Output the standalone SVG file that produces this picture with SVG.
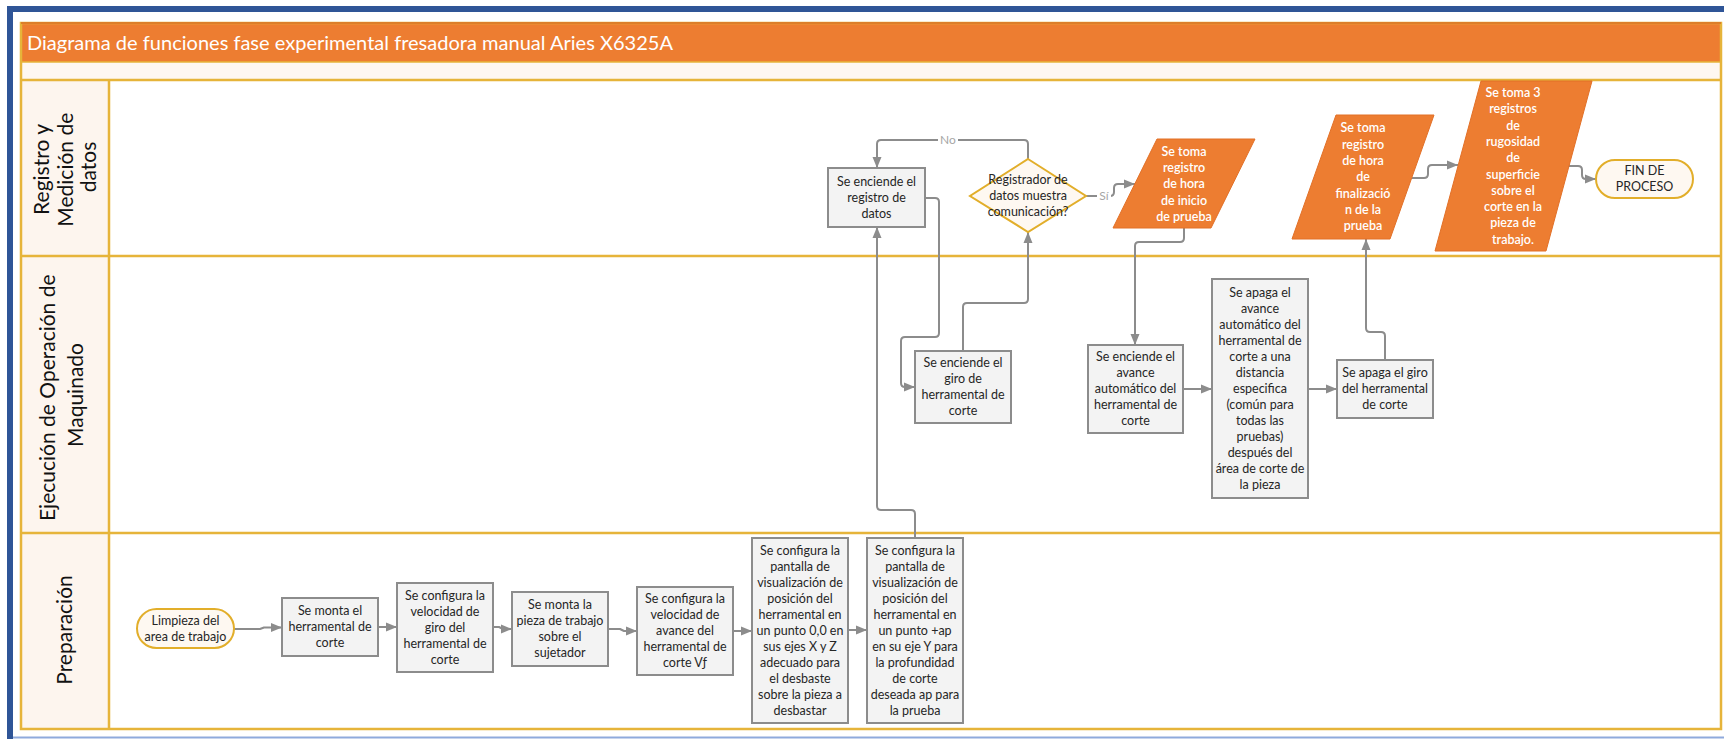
<svg xmlns="http://www.w3.org/2000/svg" width="1724" height="739" viewBox="0 0 1724 739">
  <defs>
    <marker id="arr" markerWidth="11" markerHeight="10" refX="11" refY="5" orient="auto" markerUnits="userSpaceOnUse">
      <path d="M0,0.5 L11,5 L0,9.5 z" fill="#8c8c8c"/>
    </marker>
    <style>
      .lane-line { stroke: #e6b43a; stroke-width: 2.5; fill: none; }
      .hdr { fill: #fdf5ee; }
      .lane-label { font-family: Lato, "Liberation Sans", sans-serif; font-size: 21px; fill: #111; text-anchor: middle; }
      .box { fill: #f3f3f3; stroke: #8c8c8c; stroke-width: 2; }
      .term { fill: #fef8f1; stroke: #e2ae2a; stroke-width: 2; }
      .dec { fill: #fef8f1; stroke: #e2ae2a; stroke-width: 2; }
      .io { fill: #ed7d31; stroke: #e27027; stroke-width: 1; }
      .t { font-family: Lato, "Liberation Sans", sans-serif; font-size: 12.5px; fill: #262626; text-anchor: middle; }
      .tw { font-family: Lato, "Liberation Sans", sans-serif; font-size: 12.5px; fill: #ffffff; font-weight: 600; text-anchor: middle; }
      .conn { fill: none; stroke: #8c8c8c; stroke-width: 2; stroke-linejoin: round; }
      .lbl { font-family: Lato, "Liberation Sans", sans-serif; font-size: 12px; fill: #a6a6a6; text-anchor: middle; }
    </style>
  </defs>

  <!-- page frame -->
  <rect x="0" y="0" width="1724" height="739" fill="#ffffff"/>
  <rect x="7" y="6" width="1717" height="6" fill="#2f5597"/>
  <rect x="7" y="6" width="6" height="733" fill="#2f5597"/>
  <line x1="13" y1="737.5" x2="1724" y2="737.5" stroke="#8faadc" stroke-width="2"/>

  <!-- pool -->
  <g id="pool">
    <rect x="21" y="23" width="1700" height="706" fill="#ffffff"/>
    <rect x="21" y="23" width="1700" height="39" fill="#ed7d31"/>
    <rect x="21" y="62" width="1700" height="18" fill="#fef7f1"/>
    <rect class="hdr" x="21" y="80" width="88" height="176"/>
    <rect class="hdr" x="21" y="256" width="88" height="277"/>
    <rect class="hdr" x="21" y="533" width="88" height="196"/>
    <line class="lane-line" x1="21" y1="62" x2="1721" y2="62" style="stroke-width:1.5"/>
    <line class="lane-line" x1="21" y1="80" x2="1721" y2="80"/>
    <line class="lane-line" x1="21" y1="256" x2="1721" y2="256"/>
    <line class="lane-line" x1="21" y1="533" x2="1721" y2="533"/>
    <line class="lane-line" x1="109" y1="80" x2="109" y2="729"/>
    <rect x="21" y="23" width="1700" height="706" fill="none" stroke="#e6b43a" stroke-width="2.5"/>
    <line x1="21" y1="23" x2="1721" y2="23" stroke="#d96d26" stroke-width="1.5"/>
    <text x="27" y="50" textLength="646" lengthAdjust="spacingAndGlyphs" font-family="Lato, 'Liberation Sans', sans-serif" font-size="20" fill="#ffffff">Diagrama de funciones fase experimental fresadora manual Aries X6325A</text>
  </g>

  <!-- lane titles -->
  <g id="lane-registro">
    <text class="lane-label" transform="rotate(-90)">
      <tspan x="-167" y="49">Registro y</tspan>
      <tspan x="-167" y="72.5">Medición de</tspan>
      <tspan x="-167" y="96">datos</tspan>
    </text>
  </g>
  <g id="lane-ejecucion">
    <text class="lane-label" transform="rotate(-90)">
      <tspan x="-395" y="55">Ejecución de Operación de</tspan>
      <tspan x="-395" y="83">Maquinado</tspan>
    </text>
  </g>
  <g id="lane-preparacion">
    <text class="lane-label" transform="rotate(-90)">
      <tspan x="-630" y="72">Preparación</tspan>
    </text>
  </g>

  <!-- connectors -->
  <g id="connectors">
    <path class="conn" marker-end="url(#arr)" d="M1028,159 V144 Q1028,140 1024,140 H881 Q877,140 877,144 V168"/>
    <path class="conn" marker-end="url(#arr)" d="M1086,196 H1110 Q1114,196 1114,192 V188 Q1114,184 1118,184 H1135"/>
    <path class="conn" marker-end="url(#arr)" d="M925,198 H935 Q939,198 939,202 V333 Q939,337 935,337 H905 Q901,337 901,341 V383 Q901,387 905,387 H915"/>
    <path class="conn" marker-end="url(#arr)" d="M963,351 V307 Q963,303 967,303 H1024 Q1028,303 1028,299 V232"/>
    <path class="conn" marker-end="url(#arr)" d="M915,538 V514 Q915,510 911,510 H881 Q877,510 877,506 V227"/>
    <path class="conn" marker-end="url(#arr)" d="M1184,228 V238 Q1184,242 1180,242 H1139 Q1135,242 1135,246 V345"/>
    <path class="conn" marker-end="url(#arr)" d="M1183,389 H1212"/>
    <path class="conn" marker-end="url(#arr)" d="M1308,389 H1337"/>
    <path class="conn" marker-end="url(#arr)" d="M1385,360 V336 Q1385,332 1381,332 H1370 Q1366,332 1366,328 V239"/>
    <path class="conn" marker-end="url(#arr)" d="M1412,178 H1424 Q1428,178 1428,174 V169 Q1428,165 1432,165 H1458"/>
    <path class="conn" marker-end="url(#arr)" d="M1568,166 H1578 Q1582,166 1582,170 V175 Q1582,179 1586,179 H1596"/>
    <path class="conn" marker-end="url(#arr)" d="M234,629 H260 L264,627.5 H282"/>
    <path class="conn" marker-end="url(#arr)" d="M378,627 H397"/>
    <path class="conn" marker-end="url(#arr)" d="M493,627 H499 L503,629 H512"/>
    <path class="conn" marker-end="url(#arr)" d="M608,629 H620 L624,631 H637"/>
    <path class="conn" marker-end="url(#arr)" d="M733,631 H752"/>
    <path class="conn" marker-end="url(#arr)" d="M848,630 H867"/>
    <rect x="938" y="132" width="20" height="15" fill="#ffffff"/>
    <text class="lbl" x="948" y="144">No</text>
    <rect x="1097" y="189" width="14" height="15" fill="#ffffff"/>
    <text class="lbl" x="1104" y="200">Sí</text>
  </g>

  <!-- Registro y Medición de datos -->
  <g id="n-enciende-registro">
    <rect class="box" x="828" y="168" width="97" height="59"/>
    <text class="t"><tspan x="876.5" y="185.8">Se enciende el</tspan><tspan x="876.5" y="201.8">registro de</tspan><tspan x="876.5" y="217.8">datos</tspan></text>
  </g>
  <g id="n-comunicacion">
    <polygon class="dec" points="1028,159 1086,196 1028,232 970,196"/>
    <text class="t"><tspan x="1028" y="184.3">Registrador de</tspan><tspan x="1028" y="200.3">datos muestra</tspan><tspan x="1028" y="216.3">comunicación?</tspan></text>
  </g>
  <g id="n-hora-inicio">
    <polygon class="io" points="1157,139 1255,139 1211,228 1113,228"/>
    <text class="tw"><tspan x="1184" y="155.7">Se toma</tspan><tspan x="1184" y="172">registro</tspan><tspan x="1184" y="188.3">de hora</tspan><tspan x="1184" y="204.6">de inicio</tspan><tspan x="1184" y="220.9">de prueba</tspan></text>
  </g>
  <g id="n-hora-fin">
    <polygon class="io" points="1336,115 1434,115 1390,239 1292,239"/>
    <text class="tw"><tspan x="1363" y="132.4">Se toma</tspan><tspan x="1363" y="148.7">registro</tspan><tspan x="1363" y="165">de hora</tspan><tspan x="1363" y="181.3">de</tspan><tspan x="1363" y="197.6">finalizació</tspan><tspan x="1363" y="213.9">n de la</tspan><tspan x="1363" y="230.2">prueba</tspan></text>
  </g>
  <g id="n-rugosidad">
    <polygon class="io" points="1481,81 1592,81 1546,251 1435,251"/>
    <text class="tw"><tspan x="1513" y="97">Se toma 3</tspan><tspan x="1513" y="113.3">registros</tspan><tspan x="1513" y="129.6">de</tspan><tspan x="1513" y="145.9">rugosidad</tspan><tspan x="1513" y="162.2">de</tspan><tspan x="1513" y="178.5">superficie</tspan><tspan x="1513" y="194.8">sobre el</tspan><tspan x="1513" y="211.1">corte en la</tspan><tspan x="1513" y="227.4">pieza de</tspan><tspan x="1513" y="243.7">trabajo.</tspan></text>
  </g>
  <g id="n-fin">
    <rect class="term" x="1596" y="160" width="97" height="38" rx="19" ry="19"/>
    <text class="t"><tspan x="1644.5" y="175.3">FIN DE</tspan><tspan x="1644.5" y="191.3">PROCESO</tspan></text>
  </g>

  <!-- Ejecución de Operación de Maquinado -->
  <g id="n-enciende-giro">
    <rect class="box" x="915" y="351" width="96" height="72"/>
    <text class="t"><tspan x="963" y="367.3">Se enciende el</tspan><tspan x="963" y="383.3">giro de</tspan><tspan x="963" y="399.3">herramental de</tspan><tspan x="963" y="415.3">corte</tspan></text>
  </g>
  <g id="n-enciende-avance">
    <rect class="box" x="1088" y="345" width="95" height="88"/>
    <text class="t"><tspan x="1135.5" y="361.3">Se enciende el</tspan><tspan x="1135.5" y="377.3">avance</tspan><tspan x="1135.5" y="393.3">automático del</tspan><tspan x="1135.5" y="409.3">herramental de</tspan><tspan x="1135.5" y="425.3">corte</tspan></text>
  </g>
  <g id="n-apaga-avance">
    <rect class="box" x="1212" y="279" width="96" height="219"/>
    <text class="t"><tspan x="1260" y="296.8">Se apaga el</tspan><tspan x="1260" y="312.8">avance</tspan><tspan x="1260" y="328.8">automático del</tspan><tspan x="1260" y="344.8">herramental de</tspan><tspan x="1260" y="360.8">corte a una</tspan><tspan x="1260" y="376.8">distancia</tspan><tspan x="1260" y="392.8">especifica</tspan><tspan x="1260" y="408.8">(común para</tspan><tspan x="1260" y="424.8">todas las</tspan><tspan x="1260" y="440.8">pruebas)</tspan><tspan x="1260" y="456.8">después del</tspan><tspan x="1260" y="472.8">área de corte de</tspan><tspan x="1260" y="488.8">la pieza</tspan></text>
  </g>
  <g id="n-apaga-giro">
    <rect class="box" x="1337" y="360" width="96" height="58"/>
    <text class="t"><tspan x="1385" y="377.3">Se apaga el giro</tspan><tspan x="1385" y="393.3">del herramental</tspan><tspan x="1385" y="409.3">de corte</tspan></text>
  </g>

  <!-- Preparación -->
  <g id="n-limpieza">
    <rect class="term" x="137" y="609" width="97" height="39" rx="19.5" ry="19.5"/>
    <text class="t"><tspan x="185.5" y="624.8">Limpieza del</tspan><tspan x="185.5" y="640.8">area de trabajo</tspan></text>
  </g>
  <g id="n-monta-herramental">
    <rect class="box" x="282" y="598" width="96" height="58"/>
    <text class="t"><tspan x="330" y="615.3">Se monta el</tspan><tspan x="330" y="631.3">herramental de</tspan><tspan x="330" y="647.3">corte</tspan></text>
  </g>
  <g id="n-velocidad-giro">
    <rect class="box" x="397" y="583" width="96" height="89"/>
    <text class="t"><tspan x="445" y="599.8">Se configura la</tspan><tspan x="445" y="615.8">velocidad de</tspan><tspan x="445" y="631.8">giro del</tspan><tspan x="445" y="647.8">herramental de</tspan><tspan x="445" y="663.8">corte</tspan></text>
  </g>
  <g id="n-monta-pieza">
    <rect class="box" x="512" y="592" width="96" height="74"/>
    <text class="t"><tspan x="560" y="609.3">Se monta la</tspan><tspan x="560" y="625.3">pieza de trabajo</tspan><tspan x="560" y="641.3">sobre el</tspan><tspan x="560" y="657.3">sujetador</tspan></text>
  </g>
  <g id="n-velocidad-avance">
    <rect class="box" x="637" y="587" width="96" height="88"/>
    <text class="t"><tspan x="685" y="603.3">Se configura la</tspan><tspan x="685" y="619.3">velocidad de</tspan><tspan x="685" y="635.3">avance del</tspan><tspan x="685" y="651.3">herramental de</tspan><tspan x="685" y="667.3">corte Vƒ</tspan></text>
  </g>
  <g id="n-pantalla-cero">
    <rect class="box" x="752" y="538" width="96" height="185"/>
    <text class="t"><tspan x="800" y="554.8">Se configura la</tspan><tspan x="800" y="570.8">pantalla de</tspan><tspan x="800" y="586.8">visualización de</tspan><tspan x="800" y="602.8">posición del</tspan><tspan x="800" y="618.8">herramental en</tspan><tspan x="800" y="634.8">un punto 0,0 en</tspan><tspan x="800" y="650.8">sus ejes X y Z</tspan><tspan x="800" y="666.8">adecuado para</tspan><tspan x="800" y="682.8">el desbaste</tspan><tspan x="800" y="698.8">sobre la pieza a</tspan><tspan x="800" y="714.8">desbastar</tspan></text>
  </g>
  <g id="n-pantalla-ap">
    <rect class="box" x="867" y="538" width="96" height="185"/>
    <text class="t"><tspan x="915" y="554.8">Se configura la</tspan><tspan x="915" y="570.8">pantalla de</tspan><tspan x="915" y="586.8">visualización de</tspan><tspan x="915" y="602.8">posición del</tspan><tspan x="915" y="618.8">herramental en</tspan><tspan x="915" y="634.8">un punto +ap</tspan><tspan x="915" y="650.8">en su eje Y para</tspan><tspan x="915" y="666.8">la profundidad</tspan><tspan x="915" y="682.8">de corte</tspan><tspan x="915" y="698.8">deseada ap para</tspan><tspan x="915" y="714.8">la prueba</tspan></text>
  </g>
</svg>
